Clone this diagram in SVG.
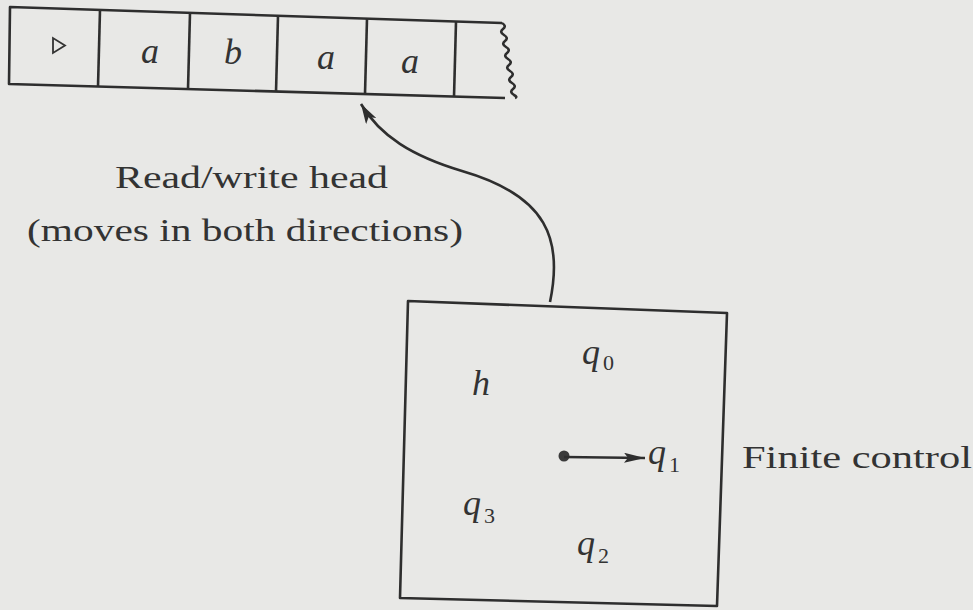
<svg xmlns="http://www.w3.org/2000/svg" width="973" height="610" viewBox="0 0 973 610">
<style>
.ln{fill:none;stroke:#2e2e2e;stroke-width:2.6;stroke-linejoin:round}
.it{font-family:"Liberation Serif","DejaVu Serif",serif;font-style:italic;font-size:36px;fill:#333}
.sub{font-family:"Liberation Serif","DejaVu Serif",serif;font-size:22px;fill:#333}
.tx{font-family:"Liberation Serif","DejaVu Serif",serif;font-size:32px;fill:#333}
</style>
<defs>
<marker id="ah" markerWidth="22" markerHeight="12" refX="20" refY="6" orient="auto" markerUnits="userSpaceOnUse">
<path d="M0,0 L20,6 L0,12 L5,6 Z" fill="#2e2e2e"/>
</marker>
<marker id="ah2" markerWidth="22" markerHeight="10" refX="21" refY="5" orient="auto" markerUnits="userSpaceOnUse">
<path d="M0,0 L21,5 L0,10 L4,5 Z" fill="#2e2e2e"/>
</marker>
</defs>
<rect width="973" height="610" fill="#e8e8e6"/>
<g id="tape">
<path class="ln" d="M502,23 L10,7 L9,84 L505,98"/>
<path class="ln" d="M502,23 q5,3 1,6 q-4,3 1,6 q5,3 1,6 q-4,3 1,6 q5,3 1,6 q-4,3 1,6 q5,3 1,6 q-4,3 1,6 q5,3 1,6 q-4,3 1,6 q5,3 1,6 q-4,3 1,6 q4,2 1,3"/>
<line class="ln" x1="100" y1="10" x2="98" y2="86.5"/>
<line class="ln" x1="190" y1="13" x2="188" y2="89"/>
<line class="ln" x1="278" y1="16" x2="276" y2="92"/>
<line class="ln" x1="367" y1="19" x2="365" y2="94"/>
<line class="ln" x1="456" y1="22" x2="454" y2="97"/>
<path d="M53,38 L53,53 L65,45.5 Z" fill="none" stroke="#333" stroke-width="1.8"/>
<text class="it" x="141" y="63">a</text>
<text class="it" x="224" y="64">b</text>
<text class="it" x="317" y="69">a</text>
<text class="it" x="401" y="73">a</text>
</g>
<g id="label">
<text class="tx" x="115" y="188" textLength="273" lengthAdjust="spacingAndGlyphs">Read/write head</text>
<text class="tx" x="27" y="241" textLength="436" lengthAdjust="spacingAndGlyphs">(moves in both directions)</text>
</g>
<g id="control">
<path class="ln" d="M408,301 L727,313 L717,606 L400,598 Z"/>
<text class="it" x="582" y="364">q</text><text class="sub" x="603" y="370">0</text>
<text class="it" x="472" y="395">h</text>
<circle cx="564" cy="456" r="5.5" fill="#3a3a3a"/>
<text class="it" x="648" y="464">q</text><text class="sub" x="669" y="472">1</text>
<text class="it" x="463" y="515">q</text><text class="sub" x="484" y="523">3</text>
<text class="it" x="577" y="555">q</text><text class="sub" x="598" y="563">2</text>
</g>
<g id="finite-label">
<text class="tx" x="742" y="468" textLength="230" lengthAdjust="spacingAndGlyphs">Finite control</text>
</g>
<g id="connectors">
<path class="ln" d="M550,302 C563,240 548,196 462,171 C412,156 380,136 361,104" marker-end="url(#ah)"/>
<line class="ln" x1="564" y1="457" x2="645" y2="458" marker-end="url(#ah2)"/>
</g>
</svg>
